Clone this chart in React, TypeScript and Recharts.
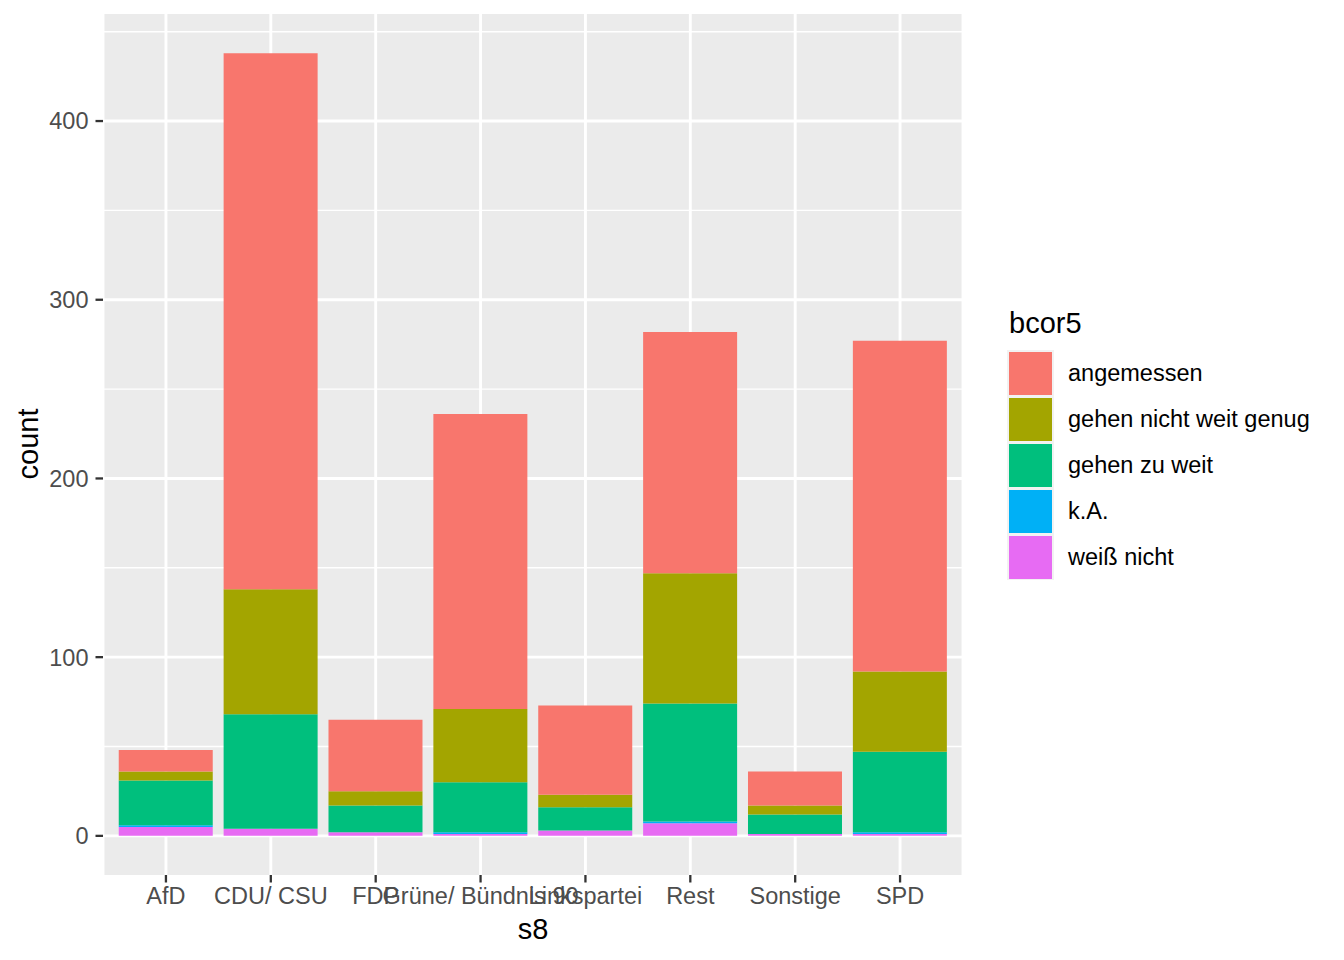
import { Bar, BarChart, CartesianGrid, XAxis, YAxis } from 'recharts'

const parties = ['AfD', 'CDU/ CSU', 'FDP', 'Grüne/ Bündnis 90', 'Linkspartei', 'Rest', 'Sonstige', 'SPD']

// counts per party, same order as parties
const weissNicht = [5, 4, 2, 1, 3, 7, 1, 1]
const keineAngabe = [1, 0, 0, 1, 0, 1, 0, 1]
const gehenZuWeit = [25, 64, 15, 28, 13, 66, 11, 45]
const nichtWeitGenug = [5, 70, 8, 41, 7, 73, 5, 45]
const angemessen = [12, 300, 40, 165, 50, 135, 19, 185]

const seriesKeys = ['angemessen', 'gnwg', 'gzw', 'ka', 'wn']
const seriesNames = ['angemessen', 'gehen nicht weit genug', 'gehen zu weit', 'k.A.', 'weiß nicht']
const seriesColors = ['#F8766D', '#A3A500', '#00BF7D', '#00B0F6', '#E76BF3']

const yTicks = [0, 100, 200, 300, 400]
const yMinor = [50, 150, 250, 350, 450]

const data = parties.map((party, i) => ({
	party,
	wn: weissNicht[i],
	ka: keineAngabe[i],
	gzw: gehenZuWeit[i],
	gnwg: nichtWeitGenug[i],
	angemessen: angemessen[i],
}))

const font = '"Liberation Sans", Arial, sans-serif'
const tickStyle = { fill: '#4D4D4D', fontSize: 23.5, fontFamily: font }

// bottom of the stack first, like ggplot's reversed fill order
const stackOrder = [4, 3, 2, 1, 0]

export default function App() {
	return (
		<div style={{ position: 'absolute', left: 0, top: 0, width: 1344, height: 960, background: '#fff', fontFamily: font }}>
			<BarChart
				width={1344}
				height={960}
				data={data}
				margin={{ top: 14, right: 381, bottom: 0, left: 0 }}
				barCategoryGap='5%'
			>
				<CartesianGrid fill='#EBEBEB' stroke='#FFFFFF' strokeWidth={1.45} vertical={false} horizontalValues={yMinor} />
				<CartesianGrid stroke='#FFFFFF' strokeWidth={2.9} horizontalValues={yTicks} />
				<XAxis
					dataKey='party'
					height={85}
					interval={0}
					padding={{ left: 10.5, right: 10.5 }}
					axisLine={false}
					tickSize={7.5}
					tickMargin={5}
					tickLine={{ stroke: '#333333', strokeWidth: 2.3 }}
					tick={tickStyle}
				/>
				<YAxis
					type='number'
					width={103}
					domain={[-21.9, 459.9]}
					allowDataOverflow
					ticks={yTicks}
					axisLine={false}
					tickSize={7.5}
					tickMargin={7}
					tickLine={{ stroke: '#333333', strokeWidth: 2.3 }}
					tick={tickStyle}
				/>
				{stackOrder.map((s) => (
					<Bar
						key={seriesKeys[s]}
						dataKey={seriesKeys[s]}
						name={seriesNames[s]}
						stackId='a'
						fill={seriesColors[s]}
						isAnimationActive={false}
					/>
				))}
			</BarChart>
			<div style={{ position: 'absolute', left: 28, top: 444, transform: 'translate(-50%, -50%) rotate(-90deg)', fontSize: 29, color: '#000', whiteSpace: 'nowrap' }}>
				count
			</div>
			<div style={{ position: 'absolute', left: 533, top: 929, transform: 'translate(-50%, -50%)', fontSize: 29, color: '#000' }}>
				s8
			</div>
			<div style={{ position: 'absolute', left: 1009, top: 323, transform: 'translateY(-50%)', fontSize: 29, color: '#000' }}>
				bcor5
			</div>
			{seriesNames.map((name, i) => (
				<div key={name} style={{ position: 'absolute', left: 1007, top: 350 + i * 46, width: 340, height: 46 }}>
					<div style={{ position: 'absolute', left: 0, top: 0, width: 47, height: 46, background: '#F2F2F2' }} />
					<div style={{ position: 'absolute', left: 2, top: 1.5, width: 43, height: 43, background: seriesColors[i] }} />
					<div style={{ position: 'absolute', left: 61, top: 23, transform: 'translateY(-50%)', fontSize: 23.5, color: '#000', whiteSpace: 'nowrap' }}>
						{name}
					</div>
				</div>
			))}
		</div>
	)
}
